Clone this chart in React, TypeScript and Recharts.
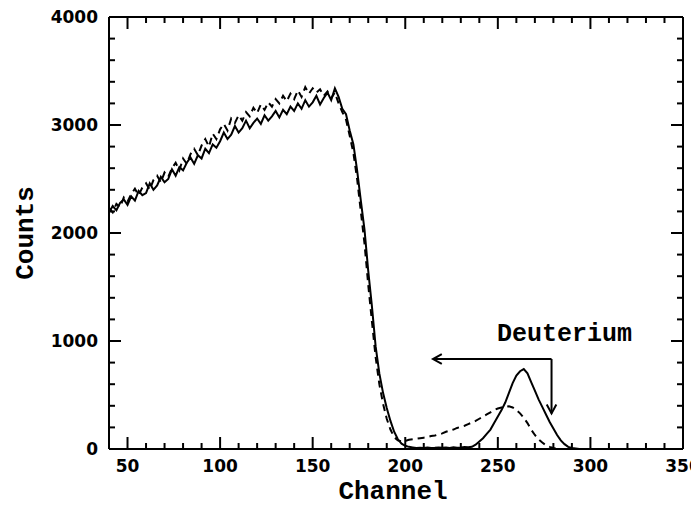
import { LineChart, Line, XAxis, YAxis, ReferenceLine, ReferenceDot } from 'recharts';

// channel numbers (every 2 channels)
const channels = [
  40, 42, 44, 46, 48, 50, 52, 54, 56, 58, 60, 62, 64, 66, 68, 70, 72, 74, 76, 78,
  80, 82, 84, 86, 88, 90, 92, 94, 96, 98, 100, 102, 104, 106, 108, 110, 112, 114, 116, 118,
  120, 122, 124, 126, 128, 130, 132, 134, 136, 138, 140, 142, 144, 146, 148, 150, 152, 154, 156, 158,
  160, 162, 164, 166, 168, 170, 172, 174, 176, 178, 180, 182, 184, 186, 188, 190, 192, 194, 196, 198,
  200, 202, 204, 206, 208, 210, 212, 214, 216, 218, 220, 222, 224, 226, 228, 230, 232, 234, 236, 238,
  240, 242, 244, 246, 248, 250, 252, 254, 256, 258, 260, 262, 264, 266, 268, 270, 272, 274, 276, 278,
  280, 282, 284, 286, 288, 290, 292, 294, 296, 298, 300,
];

// solid spectrum
const solidCounts = [
  2190, 2250, 2210, 2280, 2310, 2260, 2340, 2300, 2390, 2350, 2370, 2460, 2400, 2440, 2520, 2470, 2500, 2590, 2530, 2610,
  2580, 2650, 2700, 2640, 2720, 2690, 2780, 2740, 2820, 2790, 2850, 2930, 2870, 2910, 2990, 2930, 2970, 3040, 2970, 3020,
  3060, 3010, 3090, 3040, 3080, 3130, 3070, 3140, 3100, 3170, 3130, 3200, 3150, 3230, 3170, 3210, 3270, 3190, 3250, 3300,
  3230, 3340, 3260, 3150, 3100, 2950, 2820, 2580, 2300, 2030, 1650, 1320, 950, 700, 520, 380, 260, 160, 90, 50,
  30, 20, 15, 10, 12, 10, 14, 10, 12, 15, 12, 14, 10, 15, 12, 14, 18, 16, 20, 40,
  70, 100, 140, 180, 240, 300, 360, 430, 520, 610, 680, 720, 740, 700, 620, 540, 460, 390, 320, 250,
  190, 130, 80, 45, 20, 10, 5, 0, 0, 0, 0,
];

// dashed spectrum
const dashedCounts = [
  2230, 2190, 2270, 2240, 2330, 2290, 2360, 2410, 2350, 2420, 2460, 2400, 2490, 2530, 2470, 2560, 2520, 2600, 2650, 2580,
  2690, 2640, 2730, 2780, 2720, 2810, 2870, 2800, 2920, 2870, 2960, 3010, 2950, 3060, 3020, 3090, 3040, 3120, 3080, 3160,
  3110, 3190, 3140, 3210, 3170, 3240, 3200, 3270, 3220, 3290, 3240, 3320, 3260, 3350, 3290, 3340, 3300, 3330, 3270, 3310,
  3250, 3300, 3200, 3120, 3050, 2900, 2740, 2500, 2200, 1900, 1520, 1180, 850, 600, 420, 280, 180, 110, 80, 70,
  75, 85, 90, 95, 100, 105, 110, 120, 125, 135, 145, 160, 170, 180, 195, 205, 215, 230, 245, 260,
  280, 300, 320, 340, 360, 375, 385, 390, 395, 385, 360, 330, 290, 240, 180, 130, 90, 60, 35, 20,
  10, 0, 0, 0, 0, 0, 0, 0, 0, 0, 0,
];

const xTicks = [
  40, 50, 60, 70, 80, 90, 100, 110, 120, 130, 140, 150, 160, 170, 180, 190, 200,
  210, 220, 230, 240, 250, 260, 270, 280, 290, 300, 310, 320, 330, 340, 350,
];
const yTicks = [
  0, 200, 400, 600, 800, 1000, 1200, 1400, 1600, 1800, 2000, 2200, 2400, 2600, 2800,
  3000, 3200, 3400, 3600, 3800, 4000,
];

const data = channels.map((ch, i) => ({ ch, solid: solidCounts[i], dashed: dashedCounts[i] }));

const tickFont = "'DejaVu Sans', sans-serif";
const labelFont = "'Liberation Mono', monospace";

const AxisTick = (props: any) => {
  const { x, y, payload, side } = props;
  const v = payload.value;
  if (side === 'bottom' || side === 'top') {
    const major = v % 50 === 0;
    const len = major ? 12 : 6;
    const dir = side === 'bottom' ? -1 : 1;
    return (
      <g>
        <line x1={x} y1={y} x2={x} y2={y + dir * len} stroke="#000" strokeWidth={2} />
        {side === 'bottom' && major && (
          <text x={x} y={y + 23} textAnchor="middle" fontFamily={tickFont} fontWeight={700} fontSize={17} fill="#000">
            {v}
          </text>
        )}
      </g>
    );
  }
  const major = v % 1000 === 0;
  const len = major ? 12 : 6;
  const dir = side === 'left' ? 1 : -1;
  return (
    <g>
      <line x1={x} y1={y} x2={x + dir * len} y2={y} stroke="#000" strokeWidth={2} />
      {side === 'left' && major && (
        <text x={x - 11} y={y} dy="0.36em" textAnchor="end" fontFamily={tickFont} fontWeight={700} fontSize={17} fill="#000">
          {v}
        </text>
      )}
    </g>
  );
};

const ArrowShape = (props: any) => {
  const { x1, y1, x2, y2 } = props;
  const ang = Math.atan2(y2 - y1, x2 - x1);
  const L = 10;
  const W = 0.5;
  const ax = x2 - L * Math.cos(ang - W);
  const ay = y2 - L * Math.sin(ang - W);
  const bx = x2 - L * Math.cos(ang + W);
  const by = y2 - L * Math.sin(ang + W);
  return (
    <g>
      <line x1={x1} y1={y1} x2={x2} y2={y2} stroke="#000" strokeWidth={2} />
      <polyline points={`${ax},${ay} ${x2},${y2} ${bx},${by}`} fill="none" stroke="#000" strokeWidth={2} />
    </g>
  );
};

export default function App() {
  return (
    <div style={{ position: 'absolute', left: 0, top: 0, width: 691, height: 506, background: '#fff' }}>
      <LineChart width={691} height={506} data={data} margin={{ top: 16, right: 7, bottom: 0, left: 9 }}>
        <XAxis
          dataKey="ch"
          type="number"
          domain={[40, 350]}
          ticks={xTicks}
          interval={0}
          allowDataOverflow
          height={57}
          tickSize={0}
          tickMargin={0}
          tickLine={false}
          axisLine={{ stroke: '#000', strokeWidth: 2 }}
          tick={(p: any) => <AxisTick {...p} side="bottom" />}
          label={{
            content: ({ viewBox }: any) => (
              <text x={viewBox.x + 284} y={viewBox.y + 50} textAnchor="middle" fontFamily={labelFont} fontWeight={700} fontSize={26} fill="#000">
                Channel
              </text>
            ),
          }}
        />
        <XAxis
          xAxisId="top"
          orientation="top"
          dataKey="ch"
          type="number"
          domain={[40, 350]}
          ticks={xTicks}
          interval={0}
          allowDataOverflow
          height={1}
          tickSize={0}
          tickMargin={0}
          tickLine={false}
          axisLine={{ stroke: '#000', strokeWidth: 2 }}
          tick={(p: any) => <AxisTick {...p} side="top" />}
        />
        <YAxis
          type="number"
          domain={[0, 4000]}
          ticks={yTicks}
          interval={0}
          allowDataOverflow
          width={100}
          tickSize={0}
          tickMargin={0}
          tickLine={false}
          axisLine={{ stroke: '#000', strokeWidth: 2 }}
          tick={(p: any) => <AxisTick {...p} side="left" />}
          label={{
            content: ({ viewBox }: any) => {
              const cx = viewBox.x + 15;
              const cy = viewBox.y + viewBox.height / 2;
              return (
                <text x={cx} y={cy} dy="0.35em" transform={`rotate(-90 ${cx} ${cy})`} textAnchor="middle" fontFamily={labelFont} fontWeight={700} fontSize={26} fill="#000">
                  Counts
                </text>
              );
            },
          }}
        />
        <YAxis
          yAxisId="right"
          orientation="right"
          type="number"
          domain={[0, 4000]}
          ticks={yTicks}
          interval={0}
          allowDataOverflow
          width={1}
          tickSize={0}
          tickMargin={0}
          tickLine={false}
          axisLine={{ stroke: '#000', strokeWidth: 2 }}
          tick={(p: any) => <AxisTick {...p} side="right" />}
        />
        <Line type="linear" dataKey="dashed" stroke="#000" strokeWidth={2} strokeDasharray="7 5" dot={false} isAnimationActive={false} />
        <Line type="linear" dataKey="solid" stroke="#000" strokeWidth={2} dot={false} isAnimationActive={false} />
        <ReferenceLine segment={[{ x: 279, y: 833 }, { x: 215, y: 833 }]} shape={ArrowShape} />
        <ReferenceLine segment={[{ x: 279, y: 833 }, { x: 279, y: 330 }]} shape={ArrowShape} />
        <ReferenceDot
          x={286}
          y={1080}
          r={0}
          fill="none"
          stroke="none"
          label={{ value: 'Deuterium', position: 'center', fill: '#000', fontSize: 25, fontWeight: 700, fontFamily: labelFont }}
        />
      </LineChart>
    </div>
  );
}
